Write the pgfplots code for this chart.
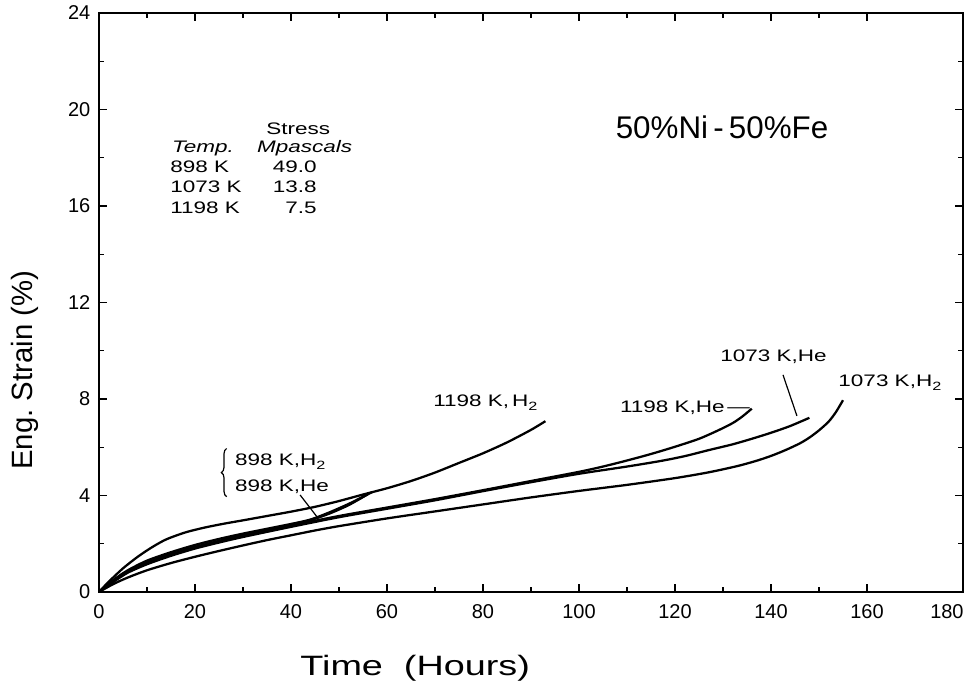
\documentclass[border=0pt]{standalone}
\usepackage{fontspec}
\setmainfont{Liberation Sans}
\newfontfamily\wide{Liberation Sans}[FakeStretch=1.35]
\usepackage{pgfplots}
\pgfplotsset{compat=1.18}
\usetikzlibrary{decorations.pathreplacing}

\newcommand{\sub}[1]{\raisebox{-0.45ex}{\fontsize{9}{9}\selectfont #1}}

\begin{document}
\begin{tikzpicture}
\begin{axis}[
  scale only axis, width=648pt, height=434.25pt,
  xmin=0, xmax=180, ymin=0, ymax=24,
  xtick={0,20,...,160}, ytick={0,4,...,24},
  extra x ticks={180},
  extra x tick style={xticklabel style={anchor=north east, xshift=4pt}},
  minor x tick num=1, minor y tick num=1,
  tick align=inside,
  major tick length=6pt, minor tick length=3.5pt,
  every tick/.style={black, line width=1pt},
  axis line style={line width=1.3pt},
  /pgf/number format/assume math mode=true,
  ticklabel style={font=\fontsize{15}{15}\selectfont},
  xticklabel style={yshift=-6pt},
  yticklabel style={xshift=-3pt},
  xlabel={Time\ \ (Hours)},
  ylabel={Eng.\ Strain (\%)},
  xlabel style={font=\wide\fontsize{21}{21}\selectfont, at={(axis description cs:0.366,-0.131)}, anchor=center},
  ylabel style={font=\fontsize{22}{22}\selectfont, at={(axis description cs:-0.0856,0.383)}, anchor=center},
  cycle list={{black, solid, mark=none}},
  every axis plot/.append style={line width=1.7pt, smooth, tension=0.45},
  clip=false,
]
% 1198 K, H2
\addplot coordinates {(0,0)(2,0.42)(5,0.98)(8,1.45)(11,1.85)(14,2.18)(18,2.47)(22,2.67)(26,2.83)(30,2.97)(35,3.15)(40,3.33)(45,3.53)(50,3.77)(55,4.04)(60,4.3)(65,4.6)(70,4.95)(75,5.35)(80,5.75)(85,6.2)(90,6.72)(93,7.08)};
% 898 K, H2
\addplot coordinates {(0,0)(3,0.5)(6,0.9)(10,1.3)(15,1.65)(20,1.95)(25,2.2)(30,2.42)(35,2.62)(40,2.82)(44,3.0)(48,3.3)(52,3.65)(55,3.95)(57,4.15)};
% 898 K, He
\addplot coordinates {(0,0)(3,0.45)(6,0.82)(10,1.2)(15,1.55)(20,1.85)(25,2.1)(30,2.32)(35,2.55)(40,2.75)(44,2.97)(48,3.25)(52,3.6)(56,4.05)};
% 1198 K, He
\addplot coordinates {(0,0)(3,0.45)(6,0.85)(10,1.22)(15,1.57)(20,1.87)(25,2.12)(30,2.35)(40,2.75)(50,3.15)(60,3.5)(70,3.85)(80,4.22)(90,4.6)(100,4.98)(105,5.2)(110,5.45)(115,5.72)(120,6.02)(125,6.35)(129,6.7)(132,7.0)(134,7.27)(136,7.6)};
% 1073 K, He
\addplot coordinates {(0,0)(3,0.42)(6,0.8)(10,1.15)(15,1.5)(20,1.8)(25,2.05)(30,2.28)(40,2.7)(50,3.1)(60,3.45)(70,3.8)(80,4.18)(90,4.55)(100,4.9)(110,5.2)(117,5.43)(122,5.63)(127,5.88)(132,6.12)(136,6.35)(140,6.6)(144,6.88)(148,7.22)};
% 1073 K, H2
\addplot coordinates {(0,0)(3,0.33)(6,0.6)(10,0.9)(15,1.2)(20,1.46)(25,1.7)(30,1.93)(35,2.15)(40,2.35)(45,2.55)(50,2.73)(60,3.05)(70,3.34)(80,3.63)(90,3.92)(100,4.19)(110,4.44)(120,4.72)(127,4.96)(133,5.22)(137,5.44)(140,5.64)(143,5.88)(146,6.16)(148,6.4)(150,6.7)(152,7.06)(153.5,7.45)(155,7.95)};

% alloy
\node[font=\fontsize{23.5}{23.5}\selectfont] at (axis cs:129.8,19.27) {50\%Ni\,-\,50\%Fe};

% test conditions
\begin{scope}[every node/.style={font=\wide\fontsize{12.5}{12.5}\selectfont, inner sep=0pt}]
\node[anchor=center] at (axis cs:41.5,19.19) {Stress};
\node[anchor=west] at (axis cs:15.2,18.4) {\itshape Temp.};
\node[anchor=west] at (axis cs:32.9,18.4) {\itshape Mpascals};
\node[anchor=west] at (axis cs:14.8,17.62) {898 K};
\node[anchor=west] at (axis cs:14.8,16.79) {1073 K};
\node[anchor=west] at (axis cs:14.8,15.92) {1198 K};
\node[anchor=east] at (axis cs:45.4,17.62) {49.0};
\node[anchor=east] at (axis cs:45.4,16.79) {13.8};
\node[anchor=east] at (axis cs:45.4,15.92) {7.5};
\end{scope}

% curve labels
\begin{scope}[every node/.style={font=\wide\fontsize{12.5}{12.5}\selectfont, inner sep=0pt, anchor=west}]
\node at (axis cs:69.6,7.85) {1198 K,\,H\sub{2}};
\node at (axis cs:108.5,7.63) {1198 K,He\,—};
\node at (axis cs:129.4,9.74) {1073 K,He};
\node at (axis cs:154,8.66) {1073 K,H\sub{2}};
\node at (axis cs:28.3,5.39) {898 K,H\sub{2}};
\node at (axis cs:28.3,4.35) {898 K,He};
\end{scope}
\draw[line width=0.9pt, decorate, decoration={brace, amplitude=4pt}] (axis cs:26.6,3.95) -- (axis cs:26.6,5.95);
\draw[line width=0.9pt] (axis cs:41.9,4.02) -- (axis cs:45.4,3.12);
\draw[line width=0.9pt] (axis cs:142.5,9.0) -- (axis cs:145.4,7.3);
\end{axis}
\pgfresetboundingbox
\path ([xshift=-74.25pt,yshift=-76.5pt]current axis.south west) rectangle ([xshift=3.75pt,yshift=9.75pt]current axis.north east);
\end{tikzpicture}
\end{document}
